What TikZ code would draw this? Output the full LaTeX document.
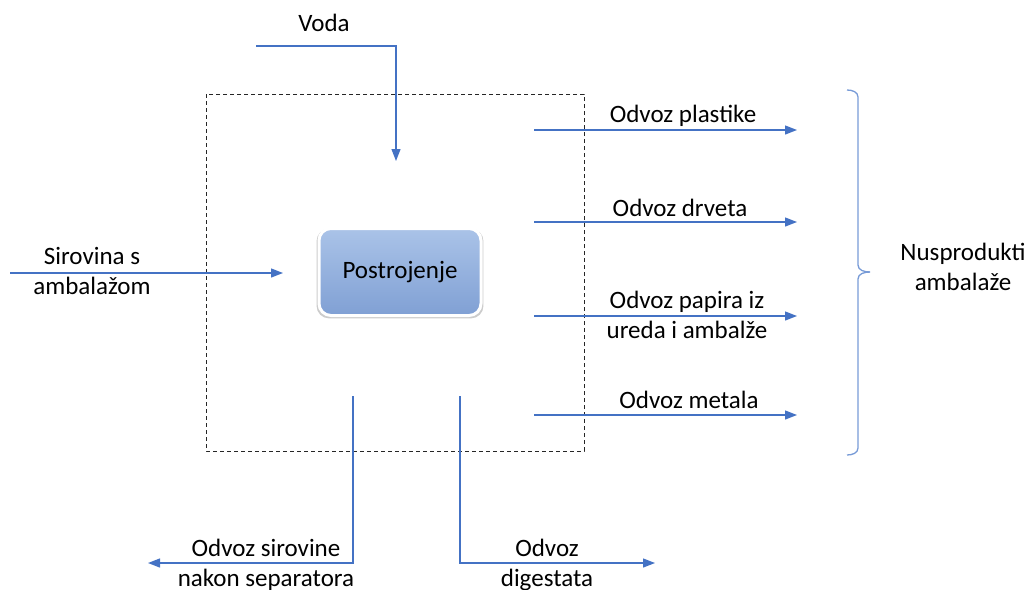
\documentclass[tikz,border=0pt]{standalone}
\usepackage{fontspec}
\setmainfont{Carlito}
\usetikzlibrary{arrows.meta,shadows,positioning}
\definecolor{flowblue}{RGB}{68,114,196}
\definecolor{bracecol}{RGB}{120,155,215}
\definecolor{planttop}{RGB}{170,195,232}
\definecolor{plantbottom}{RGB}{128,160,212}
\tikzset{
    flow/.style={draw=flowblue, line width=1.3pt, -{Triangle[length=12pt,width=9pt]}},
    label text/.style={font=\fontsize{25}{30}\selectfont, inner sep=0pt, align=center},
    plantbox/.style={
            rounded corners=12pt, draw=white, line width=3pt,
            top color=planttop, bottom color=plantbottom,
            minimum width=162pt, minimum height=87pt,
            font=\fontsize{25}{30}\selectfont,
            drop shadow={shadow xshift=0pt, shadow yshift=-1.5pt, shadow scale=1.03, opacity=0.4}
        },
    boundary/.style={draw=black!85, line width=1pt, dash pattern=on 4pt off 3pt},
    brace line/.style={draw=bracecol, line width=1.3pt},
}

\begin{document}
\begin{tikzpicture}[x=1pt, y=-1pt]
        \useasboundingbox (0, 0) rectangle (1030, 589);
        %draw dashed plant boundary
        \draw[boundary] (206, 94) rectangle (584, 451);
        %plant node
        \node[plantbox] (plant) at (400, 272) {Postrojenje};
        %end points of connectors
        \coordinate (vodastart) at (256, 46);
        \coordinate (vodaend) at (396, 161);
        \coordinate (sirstart) at (10, 273);
        \coordinate (sirend) at (283, 273);
        \coordinate (plastikastart) at (534, 130);
        \coordinate (plastikaend) at (797, 130);
        \coordinate (drvostart) at (534, 222);
        \coordinate (drvoend) at (797, 222);
        \coordinate (papirstart) at (534, 316);
        \coordinate (papirend) at (797, 316);
        \coordinate (metalstart) at (534, 415);
        \coordinate (metalend) at (797, 415);
        \coordinate (septop) at (353, 396);
        \coordinate (sepend) at (148, 563);
        \coordinate (digtop) at (460, 396);
        \coordinate (digend) at (655, 563);
        %draw inputs
        \draw[flow] (vodastart) -| (vodaend);
        \draw[flow] (sirstart) -- (sirend);
        %draw by-product outputs
        \draw[flow] (plastikastart) -- (plastikaend);
        \draw[flow] (drvostart) -- (drvoend);
        \draw[flow] (papirstart) -- (papirend);
        \draw[flow] (metalstart) -- (metalend);
        %draw bottom outputs
        \draw[flow] (septop) |- (sepend);
        \draw[flow] (digtop) |- (digend);
        %label inputs
        \node[label text, anchor=base] (voda) at (324, 31) {Voda};
        \node[label text] (sirovina) at (92, 271) {Sirovina s\\ambalažom};
        %label outputs
        \node[label text, anchor=base] (plastika) at (683, 122) {Odvoz plastike};
        \node[label text, anchor=base] (drvo) at (680, 216) {Odvoz drveta};
        \node[label text] (papir) at (687, 315) {Odvoz papira iz\\ureda i ambalže};
        \node[label text, anchor=base] (metal) at (689, 408) {Odvoz metala};
        \node[label text] (separator) at (266, 565) {Odvoz sirovine\\nakon separatora};
        \node[label text] (digestat) at (547, 565) {Odvoz\\digestata};
        %draw brace
        \draw[brace line] (847, 90) to[out=0, in=90] (858, 97) -- (858, 265)
            to[out=-90, in=180] (870, 272);
        \draw[brace line] (870, 272) to[out=180, in=90] (858, 279) -- (858, 448)
            to[out=-90, in=0] (847, 455);
        %label brace
        \node[label text] (nusprodukti) at (963, 267) {Nusprodukti\\ambalaže};
    \end{tikzpicture}
\end{document}
